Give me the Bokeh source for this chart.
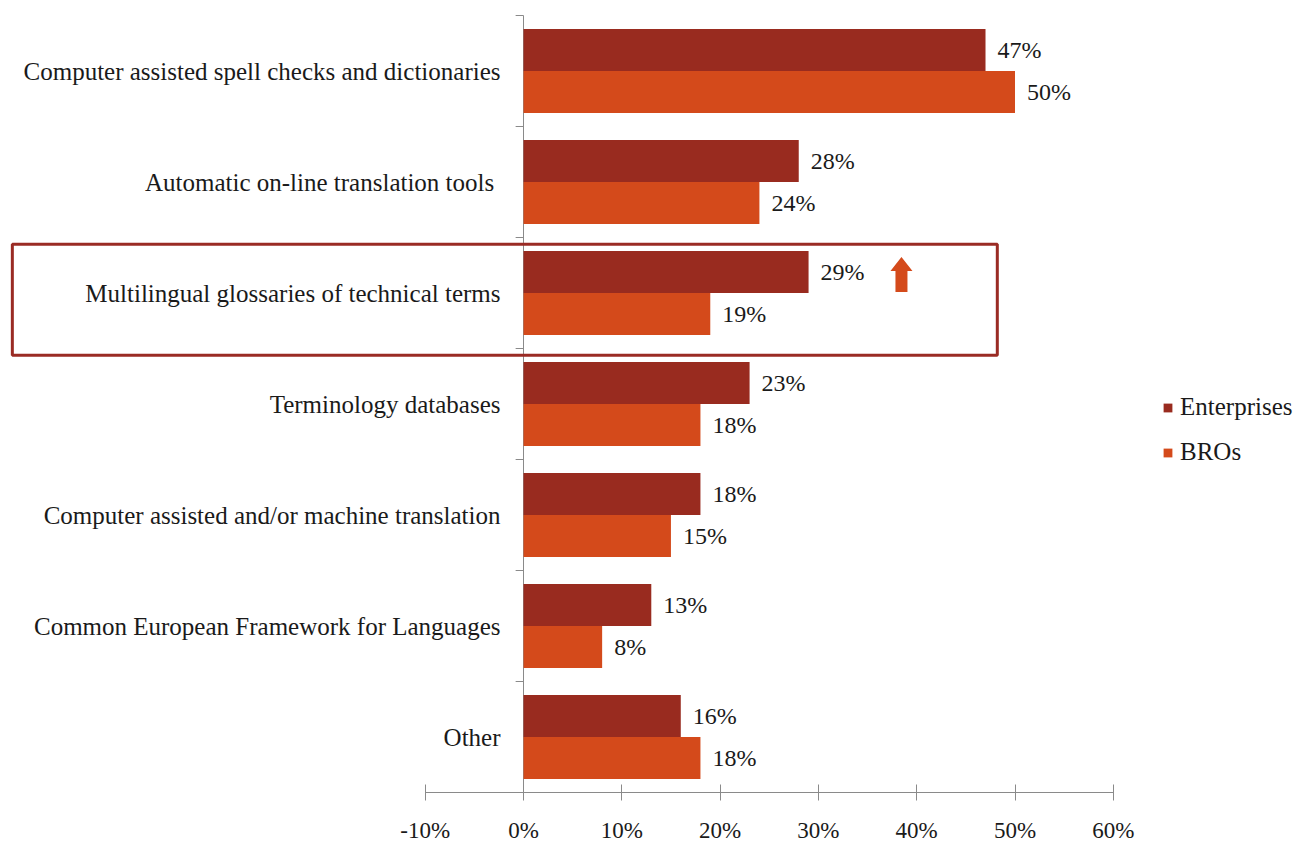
from bokeh.plotting import figure
from bokeh.models import (Range1d, FixedTicker, PrintfTickFormatter, BoxAnnotation,
                          ColumnDataSource, LabelSet, Legend, LegendItem)
from bokeh.embed import file_html
from bokeh.resources import INLINE

categories = [
    "Computer assisted spell checks and dictionaries",
    "Automatic on-line translation tools ",
    "Multilingual glossaries of technical terms",
    "Terminology databases",
    "Computer assisted and/or machine translation",
    "Common European Framework for Languages",
    "Other",
]
enterprises = [47, 28, 29, 23, 18, 13, 16]
bros = [50, 24, 19, 18, 15, 8, 18]
x_ticks = [-10, 0, 10, 20, 30, 40, 50, 60]
series_names = ["Enterprises", "BROs"]

C_ENT = "#992B1F"
C_BRO = "#D44A1B"
FONT = "Liberation Serif"
TXT = "#1a1a1a"
AX = "#8A8A8A"

n = len(categories)
bar_h = 0.378
centers = [i + 0.5 for i in range(n)]

W, H = 1313, 843
FW, FH = W, 792
px = 9.83          # pixels per 1 %
zero_px = 523
py = 111.0         # pixels per category band
top_pad = 15

x0 = -zero_px / px
x1 = (FW - zero_px) / px
y_top = -top_pad / py
y_bot = (FH - top_pad) / py

p = figure(frame_width=FW, frame_height=FH, width=W, height=H,
           x_range=Range1d(x0, x1), y_range=Range1d(y_bot, y_top),
           output_backend="svg", toolbar_location=None,
           y_axis_location=None, min_border_left=0, min_border_right=0,
           min_border_top=0, min_border_bottom=H - FH)
p.outline_line_color = None
p.xgrid.visible = False
p.ygrid.visible = False
p.background_fill_color = "white"
p.border_fill_color = "white"

xa = p.xaxis[0]
xa.bounds = (x_ticks[0], x_ticks[-1])
xa.ticker = FixedTicker(ticks=x_ticks)
xa.formatter = PrintfTickFormatter(format="%d%%")
xa.axis_line_color = AX
xa.major_tick_line_color = AX
xa.major_tick_in = 8
xa.major_tick_out = 8
xa.minor_tick_line_color = None
xa.major_label_text_font = FONT
xa.major_label_text_font_size = "23px"
xa.major_label_text_color = TXT
xa.major_label_standoff = 17

# vertical category axis at 0%
p.segment(x0=[0], y0=[0], x1=[0], y1=[n], line_color=AX, line_width=1)
p.segment(x0=[-0.8] * n, y0=list(range(n)), x1=[0] * n, y1=list(range(n)),
          line_color=AX, line_width=1)

src = ColumnDataSource(dict(
    cat=categories, c=centers,
    ye=[c - bar_h / 2 for c in centers], yb=[c + bar_h / 2 for c in centers],
    ent=enterprises, bro=bros,
    ent_lbl=[f"{v}%" for v in enterprises], bro_lbl=[f"{v}%" for v in bros],
    zero=[0] * n,
))

r_ent = p.hbar(y="ye", right="ent", left=0, height=bar_h, source=src,
               fill_color=C_ENT, line_color=None)
r_bro = p.hbar(y="yb", right="bro", left=0, height=bar_h, source=src,
               fill_color=C_BRO, line_color=None)

p.add_layout(LabelSet(x="ent", y="ye", text="ent_lbl", source=src, x_offset=12,
                      text_baseline="middle", text_font=FONT, text_font_size="24px",
                      text_color=TXT))
p.add_layout(LabelSet(x="bro", y="yb", text="bro_lbl", source=src, x_offset=12,
                      text_baseline="middle", text_font=FONT, text_font_size="24px",
                      text_color=TXT))
p.add_layout(LabelSet(x="zero", y="c", text="cat", source=src, x_offset=-23,
                      text_align="right", text_baseline="middle", text_font=FONT,
                      text_font_size="25px", text_color=TXT))

# highlight box around the "Multilingual glossaries" row
p.add_layout(BoxAnnotation(left=-52.0, right=48.2, top=2.06, bottom=3.06,
                           fill_alpha=0, line_color="#9A2B24", line_alpha=1,
                           line_width=3))

# up arrow next to it
ax, ay_tip, ay_base = 38.45, 2.175, 2.49
hw, sw, hl = 11 / px, 6 / px, 14 / py
arrow_x = [ax, ax + hw, ax + sw, ax + sw, ax - sw, ax - sw, ax - hw]
arrow_y = [ay_tip, ay_tip + hl, ay_tip + hl, ay_base, ay_base, ay_tip + hl, ay_tip + hl]
p.patch(arrow_x, arrow_y, fill_color=C_BRO, line_color=None)

legend = Legend(items=[LegendItem(label=series_names[0], renderers=[r_ent]),
                       LegendItem(label=series_names[1], renderers=[r_bro])],
                location=(1162, 326), border_line_color=None, background_fill_alpha=0,
                padding=0, margin=0, spacing=17, glyph_width=11, glyph_height=11,
                label_height=26, label_standoff=7, label_text_font=FONT,
                label_text_font_size="25px", label_text_color=TXT)
p.add_layout(legend, "center")

open("out.html", "w").write(file_html(p, INLINE))
